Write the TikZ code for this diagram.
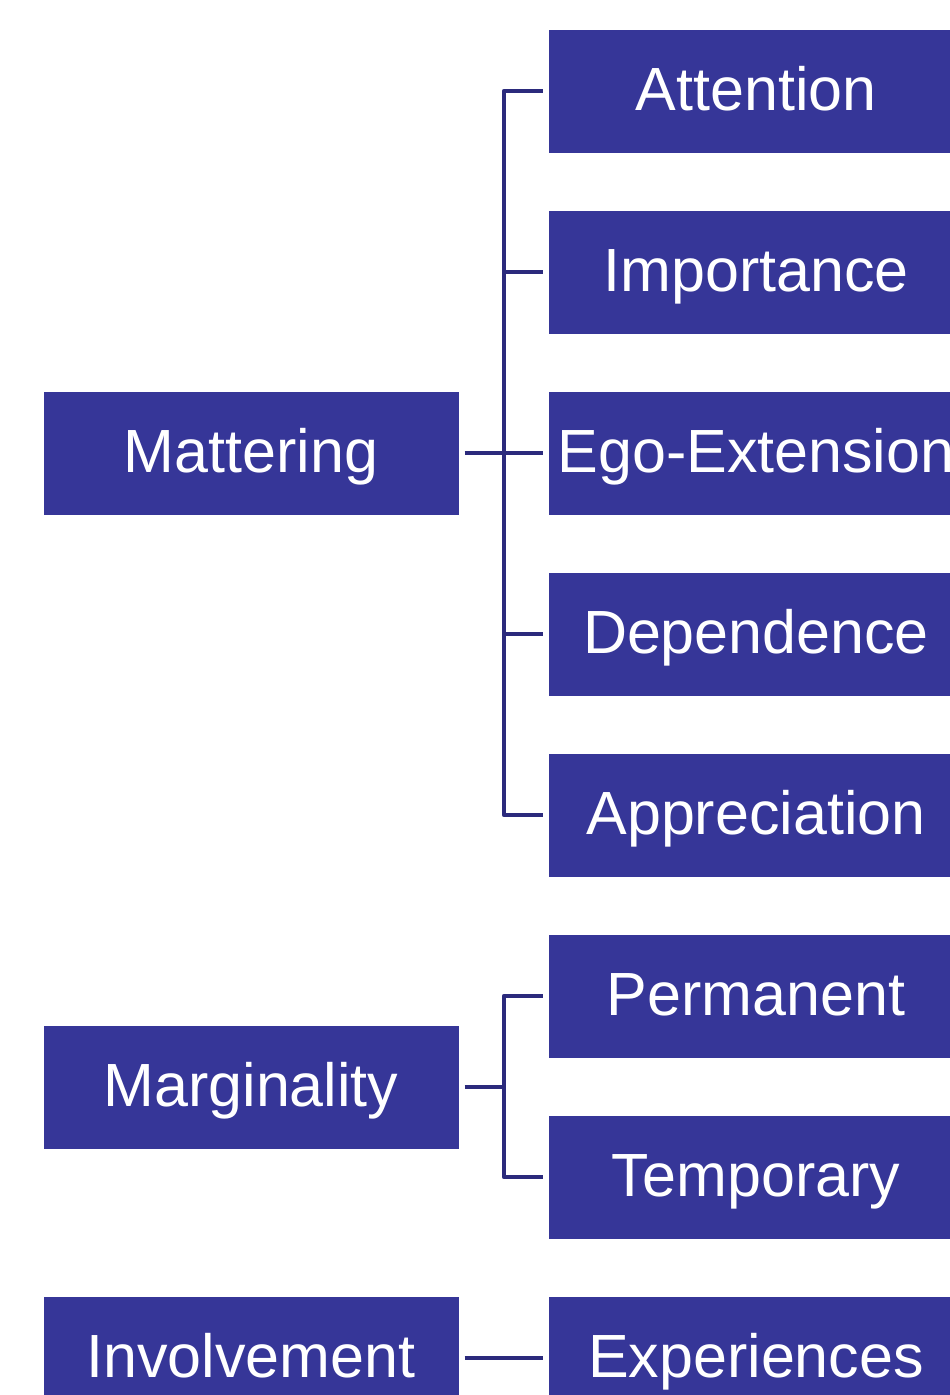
\documentclass[tikz,border=0pt]{standalone}
\usepackage{fontspec}
\setmainfont{Liberation Sans}
\usepackage{tikz}
\usetikzlibrary{
    calc,
    positioning
}
\definecolor{boxblue}{RGB}{54,54,152}
\definecolor{linkblue}{RGB}{43,42,124}
\tikzset{
    item/.style={fill=boxblue, text=white, minimum width=415pt, minimum height=123pt,
        text height=50pt, text depth=12pt, inner sep=0pt, outer sep=6pt,
        font=\fontsize{61}{70}\selectfont},
    link/.style={draw=linkblue, line width=4.5pt, line join=round}
}

\begin{document}
\begin{tikzpicture}[x=1pt,y=-1pt]
                        \useasboundingbox (0,0) rectangle (950,1395);

                        \node[item] (mat) at (251, 453) {Mattering};
                        \node[item] (marg) at (251, 1087) {Marginality};
                        \node[item] (inv) at (251, 1358) {Involvement};

                        \node[item] (att) at (756, 91) {Attention};
                        \node[item] (imp) at (756, 272) {Importance};
                        \node[item] (ego) at (756, 453) {Ego-Extension};
                        \node[item] (dep) at (756, 634) {Dependence};
                        \node[item] (app) at (756, 815) {Appreciation};
                        \node[item] (perm) at (756, 996) {Permanent};
                        \node[item] (temp) at (756, 1177) {Temporary};
                        \node[item] (exp) at (756, 1358) {Experiences};

                        \coordinate (jm) at (504, 453);
                        \coordinate (jg) at (504, 1087);

                        \draw[link] (mat.east) -- (ego.west);
                        \draw[link] (att.west) -| (jm) |- (app.west);
                        \draw[link] (imp.west) -- (imp.west -| jm);
                        \draw[link] (dep.west) -- (dep.west -| jm);

                        \draw[link] (marg.east) -- (jg);
                        \draw[link] (perm.west) -| (jg) |- (temp.west);

                        \draw[link] (inv.east) -- (exp.west);
                    \end{tikzpicture}
\end{document}
